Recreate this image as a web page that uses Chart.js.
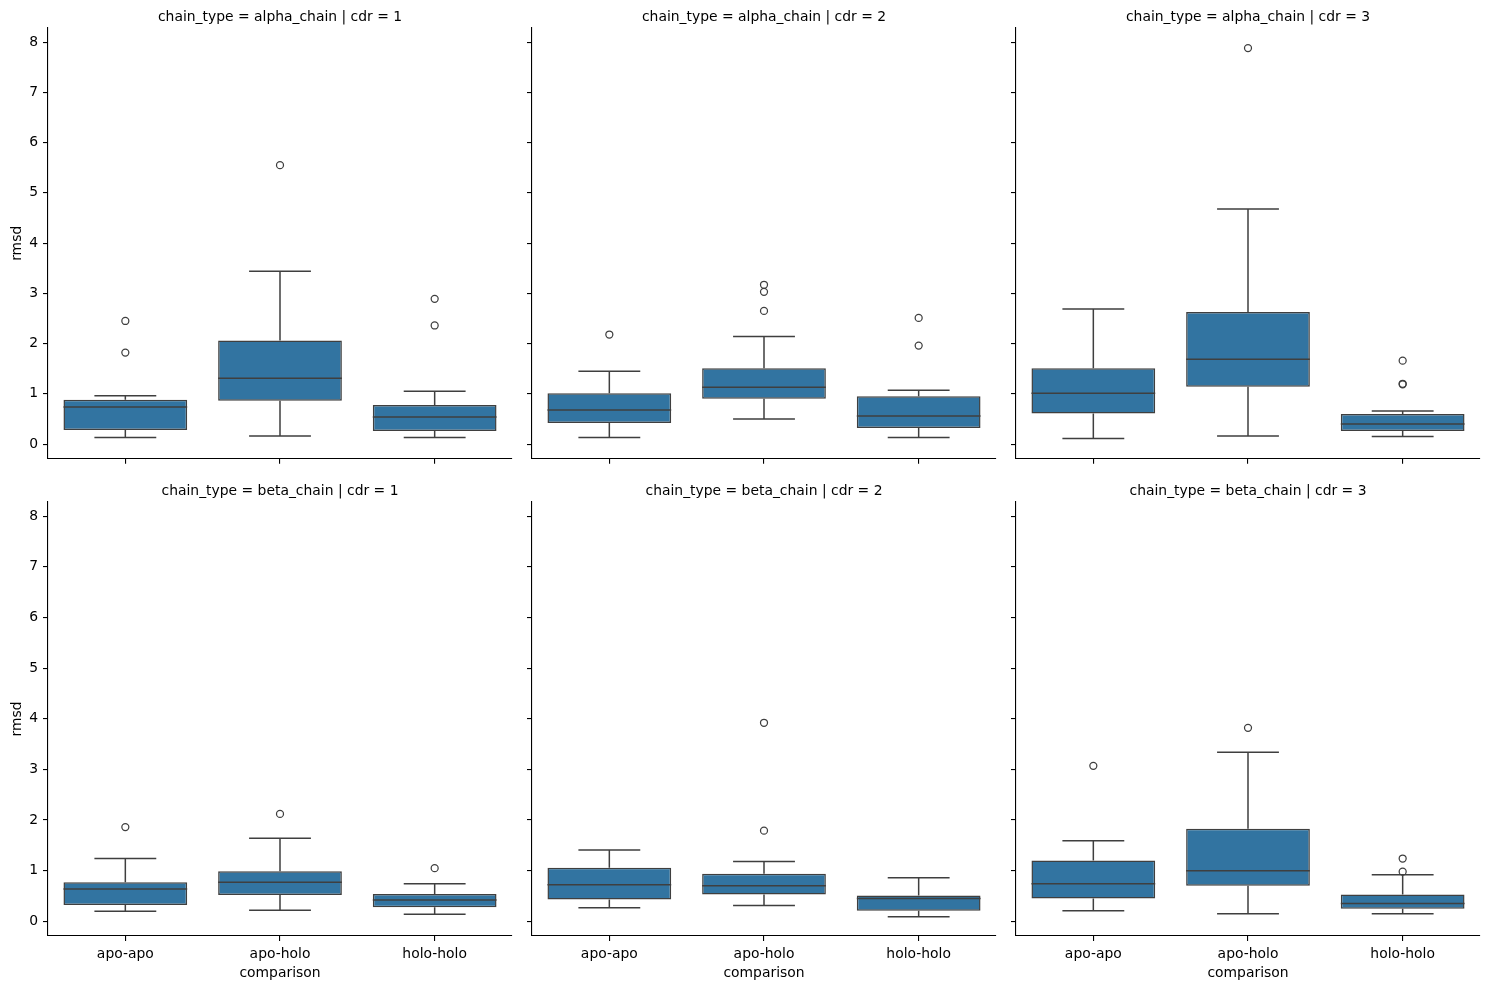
<!DOCTYPE html>
<html>
<head>
<meta charset="utf-8">
<script src="https://cdn.jsdelivr.net/npm/chart.js@4/dist/chart.umd.min.js"></script>
<style>
  html, body { margin: 0; padding: 0; background: #fff; }
  body { width: 1508px; height: 989px; position: relative; overflow: hidden; }
  canvas { position: absolute; }
</style>
</head>
<body>
<script>
// data
const categories = ['apo-apo', 'apo-holo', 'holo-holo'];
const yTicks = [0, 1, 2, 3, 4, 5, 6, 7, 8];
const panelTitles = [
  'chain_type = alpha_chain | cdr = 1',
  'chain_type = alpha_chain | cdr = 2',
  'chain_type = alpha_chain | cdr = 3',
  'chain_type = beta_chain | cdr = 1',
  'chain_type = beta_chain | cdr = 2',
  'chain_type = beta_chain | cdr = 3'
];
const whiskerLow = [
  [0.13, 0.16, 0.13],
  [0.13, 0.50, 0.13],
  [0.11, 0.16, 0.15],
  [0.20, 0.22, 0.14],
  [0.27, 0.31, 0.09],
  [0.21, 0.15, 0.15]
];
const q1 = [
  [0.28, 0.86, 0.26],
  [0.42, 0.90, 0.32],
  [0.61, 1.14, 0.26],
  [0.32, 0.52, 0.28],
  [0.43, 0.53, 0.21],
  [0.45, 0.70, 0.25]
];
const medians = [
  [0.74, 1.31, 0.54],
  [0.68, 1.13, 0.56],
  [1.01, 1.69, 0.40],
  [0.64, 0.77, 0.42],
  [0.72, 0.70, 0.45],
  [0.74, 1.00, 0.35]
];
const q3 = [
  [0.88, 2.06, 0.78],
  [1.01, 1.51, 0.95],
  [1.51, 2.63, 0.60],
  [0.77, 0.99, 0.54],
  [1.06, 0.94, 0.51],
  [1.20, 1.83, 0.53]
];
const whiskerHigh = [
  [0.96, 3.44, 1.05],
  [1.45, 2.14, 1.07],
  [2.69, 4.68, 0.66],
  [1.24, 1.64, 0.74],
  [1.41, 1.18, 0.86],
  [1.59, 3.34, 0.92]
];
const outliers = [
  [[2.45, 1.82], [5.55], [2.89, 2.36]],
  [[2.18], [3.17, 3.03, 2.65], [2.51, 1.96]],
  [[], [7.88], [1.66, 1.20, 1.19]],
  [[1.86], [2.12], [1.05]],
  [[], [3.92, 1.79], []],
  [[3.07], [3.82], [1.24, 0.98]]
];

const boxColor = '#3274a1';
const lineColor = '#3f3f3f';
const fontSize = 13.9;

Chart.defaults.font.family = 'DejaVu Sans';
Chart.defaults.font.size = fontSize;
Chart.defaults.color = '#000';

// whiskers, caps and median lines, placed through the chart scales
function boxLines(p) {
  return {
    id: 'boxLines' + p,
    afterDatasetsDraw(chart) {
      const ctx = chart.ctx;
      const x = chart.scales.x;
      const y = chart.scales.y;
      const bars = chart.getDatasetMeta(0).data;
      ctx.save();
      ctx.strokeStyle = lineColor;
      ctx.lineWidth = 1.5;
      categories.forEach((c, i) => {
        const cx = x.getPixelForValue(i);
        const half = bars[i].width / 2;
        const cap = half / 2;
        const lo = y.getPixelForValue(whiskerLow[p][i]);
        const hi = y.getPixelForValue(whiskerHigh[p][i]);
        const b1 = y.getPixelForValue(q1[p][i]);
        const b3 = y.getPixelForValue(q3[p][i]);
        const md = y.getPixelForValue(medians[p][i]);
        ctx.beginPath();
        ctx.moveTo(cx, b1); ctx.lineTo(cx, lo);
        ctx.moveTo(cx - cap, lo); ctx.lineTo(cx + cap, lo);
        ctx.moveTo(cx, b3); ctx.lineTo(cx, hi);
        ctx.moveTo(cx - cap, hi); ctx.lineTo(cx + cap, hi);
        ctx.moveTo(cx - half, md); ctx.lineTo(cx + half, md);
        ctx.stroke();
      });
      ctx.restore();
    }
  };
}

const axLeft = [48, 532, 1016];
const axWidth = 464;
const yAxisW = 48;

for (let p = 0; p < 6; p++) {
  const row = Math.floor(p / 3);
  const col = p % 3;
  const bottomRow = row === 1;

  const canvas = document.createElement('canvas');
  const w = yAxisW + axWidth + 6;
  const h = bottomRow ? 515 : 472;
  canvas.width = w;
  canvas.height = h;
  canvas.style.left = (axLeft[col] - yAxisW) + 'px';
  canvas.style.top = (bottomRow ? 474 : 0) + 'px';
  canvas.style.width = w + 'px';
  canvas.style.height = h + 'px';
  document.body.appendChild(canvas);

  const outlierPoints = [];
  categories.forEach((c, i) => {
    outliers[p][i].forEach(v => outlierPoints.push({ x: c, y: v }));
  });

  new Chart(canvas, {
    type: 'bar',
    data: {
      labels: categories,
      datasets: [{
        data: categories.map((c, i) => [q1[p][i], q3[p][i]]),
        backgroundColor: boxColor,
        borderColor: lineColor,
        borderWidth: 1.5,
        borderSkipped: false,
        barPercentage: 0.8,
        categoryPercentage: 1.0
      }, {
        type: 'line',
        data: outlierPoints,
        showLine: false,
        pointRadius: 3.5,
        pointBorderWidth: 1.25,
        pointBorderColor: lineColor,
        pointBackgroundColor: 'rgba(0,0,0,0)'
      }]
    },
    options: {
      responsive: false,
      animation: false,
      events: [],
      layout: { padding: { left: 0, right: 6, top: 0, bottom: 0 } },
      plugins: {
        legend: { display: false },
        tooltip: { enabled: false },
        title: {
          display: true,
          text: panelTitles[p],
          fullSize: false,
          color: '#000',
          font: { size: fontSize, weight: 'normal' },
          padding: { top: 9.2, bottom: 2.1 }
        }
      },
      scales: {
        x: {
          offset: true,
          grid: { display: true, drawOnChartArea: false, offset: false, tickLength: 5, color: '#000', lineWidth: 1.1 },
          border: { display: true, color: '#000', width: 1.1 },
          ticks: { display: bottomRow, padding: 5, color: '#000', maxRotation: 0 },
          title: {
            display: bottomRow,
            text: 'comparison',
            color: '#000',
            padding: { top: 0, bottom: 7.7 }
          },
          afterFit: (s) => { s.height = bottomRow ? 53 : 10; }
        },
        y: {
          min: -0.29,
          max: 8.28,
          afterBuildTicks: (s) => { s.ticks = yTicks.map(v => ({ value: v })); },
          grid: { display: true, drawOnChartArea: false, tickLength: 5, color: '#000', lineWidth: 1.1 },
          border: { display: true, color: '#000', width: 1.1 },
          ticks: {
            padding: 5,
            color: '#000',
            callback: (v) => (col === 0 ? String(v) : '')
          },
          title: {
            display: col === 0,
            text: 'rmsd',
            color: '#000',
            padding: { top: 8.7, bottom: 0 }
          },
          afterFit: (s) => { s.width = yAxisW; }
        }
      }
    },
    plugins: [boxLines(p)]
  });
}
</script>
</body>
</html>
